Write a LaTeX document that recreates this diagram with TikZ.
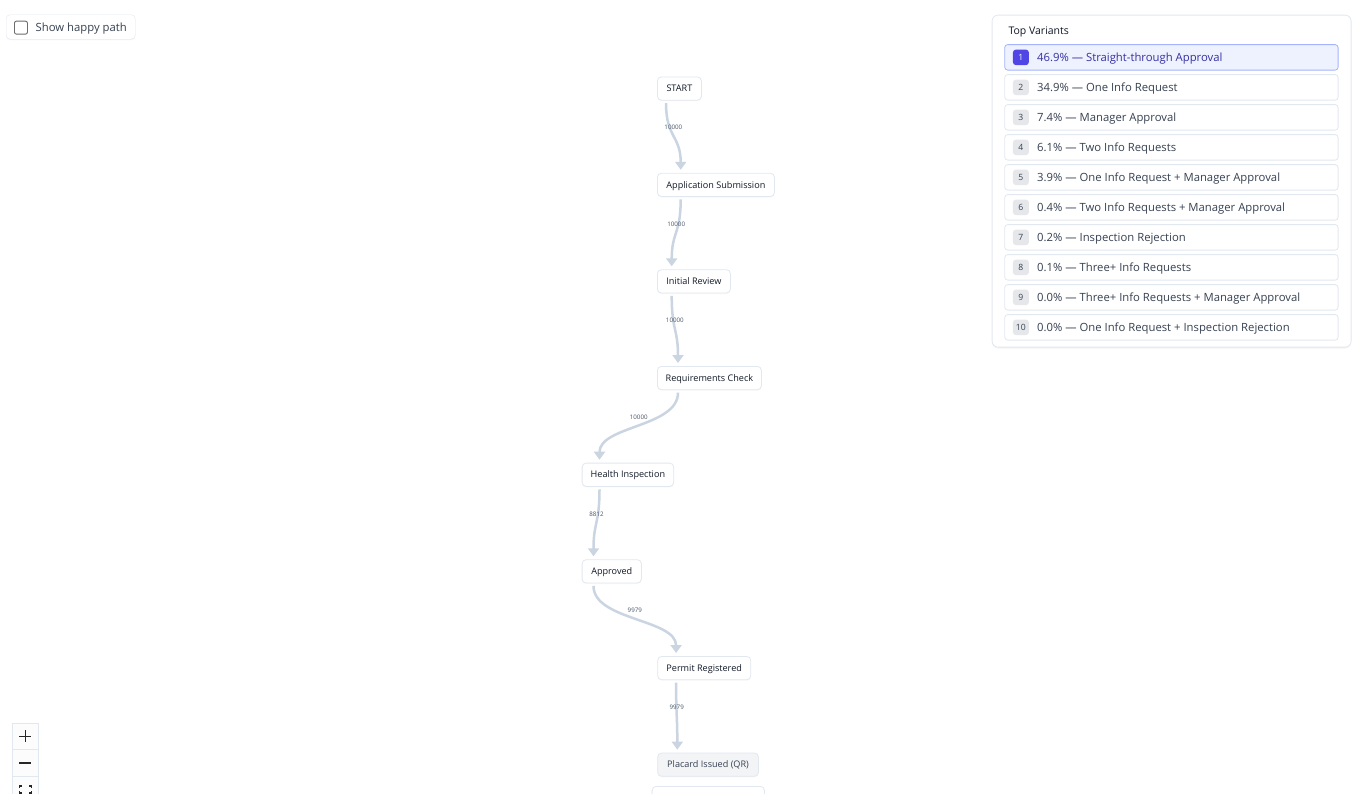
\documentclass[tikz,border=0pt]{standalone}
\usepackage{fontspec}
\setmainfont{Open Sans}
\usetikzlibrary{positioning,shapes,shadows,arrows.meta,fit}

\definecolor{edgec}{HTML}{CBD5E1}
\definecolor{bordc}{HTML}{E2E8F0}
\definecolor{labc}{HTML}{475569}
\definecolor{txtc}{HTML}{111827}
\definecolor{rowtxt}{HTML}{374151}
\definecolor{indigo}{HTML}{4F46E5}
\definecolor{indigotxt}{HTML}{3730A3}
\definecolor{indigobg}{HTML}{EEF2FF}
\definecolor{indigobd}{HTML}{A5B4FC}
\definecolor{badgec}{HTML}{E5E7EB}
\definecolor{greyfill}{HTML}{F3F4F6}
\definecolor{ctrlfill}{HTML}{FCFCFC}

\tikzset{
  flownode/.style={draw=bordc, fill=white, rounded corners=4pt, line width=0.8pt,
    anchor=north west, minimum height=23.3pt, inner xsep=0pt, inner ysep=0pt,
    text height=7.6pt, text depth=1.2pt,
    font=\fontsize{9.1}{10}\selectfont, text=txtc,
    drop shadow={opacity=0.05, shadow xshift=0pt, shadow yshift=-1pt}},
  flowedge/.style={draw=edgec, line width=2.5pt, -{Triangle[width=11pt,length=8pt]},
    shorten <=2.5pt, shorten >=3pt},
  count/.style={font=\fontsize{6.2}{7}\selectfont, text=labc, inner sep=0pt, yshift=9pt},
  varrow/.style={draw=bordc, fill=white, rounded corners=3pt, line width=0.8pt,
    anchor=north west, minimum width=333.4pt, minimum height=25.5pt, inner sep=0pt},
  badge/.style={fill=badgec, rounded corners=3pt, minimum width=16pt, minimum height=15.5pt,
    inner sep=0pt, anchor=west, text height=6.4pt, text depth=0.6pt,
    font=\fontsize{8.6}{9}\selectfont, text=rowtxt},
  vartext/.style={anchor=west, inner sep=0pt, text height=9.4pt, text depth=1.6pt,
    font=\fontsize{11.3}{13}\selectfont, text=rowtxt},
  ctrlbox/.style={draw=bordc, fill=ctrlfill, anchor=north west, minimum width=26.6pt,
    minimum height=26.6pt, inner sep=0pt, line width=0.6pt},
}

\begin{document}
\begin{tikzpicture}[x=1pt, y=-1pt]
\useasboundingbox (0,0) rectangle (1357,793);
\fill[white] (0,0) rectangle (1357,793);

% happy path toggle
\node[draw=bordc, fill=white, rounded corners=4pt, anchor=north west, minimum width=129pt,
  minimum height=24.5pt, inner sep=0pt, drop shadow={opacity=0.08, shadow xshift=0pt, shadow yshift=-1pt}]
  (happy) at (6,14.5) {};
\node[draw=gray!85!black, rounded corners=2pt, line width=0.9pt, minimum size=13pt, inner sep=0pt,
  anchor=north west] (tickbox) at (14,20.7) {};
\node[vartext] (happytext) at (35.5,27.5) {Show happy path};

% process nodes
\node[flownode, minimum width=44pt] (start) at (657,76.5) {START};
\node[flownode, minimum width=117pt] (appsub) at (657,172.8) {Application Submission};
\node[flownode, minimum width=73pt] (review) at (657,269.3) {Initial Review};
\node[flownode, minimum width=104pt] (reqcheck) at (657,366) {Requirements Check};
\node[flownode, minimum width=91.6pt] (health) at (581.7,462.7) {Health Inspection};
\node[flownode, minimum width=59.3pt] (approved) at (581.7,559.3) {Approved};
\node[flownode, minimum width=93pt] (permit) at (657.3,656) {Permit Registered};
\node[flownode, minimum width=100.7pt, fill=greyfill, text=rowtxt] (placard) at (657.3,752.6) {Placard Issued (QR)};
\node[flownode, minimum width=112.3pt] (nextbox) at (651.7,786) {};

% edges with counts
\draw[flowedge] ([xshift=9pt]start.south west) .. controls +(0,37) and +(0,-37) .. ([xshift=23.7pt]appsub.north west)
  node[count, pos=0.5] (c1) {10000};
\draw[flowedge] ([xshift=23.7pt]appsub.south west) .. controls +(0,37) and +(0,-37) .. ([xshift=14.7pt]review.north west)
  node[count, pos=0.5] (c2) {10000};
\draw[flowedge] ([xshift=14.7pt]review.south west) .. controls +(0,37) and +(0,-37) .. ([xshift=21pt]reqcheck.north west)
  node[count, pos=0.5] (c3) {10000};
\draw[flowedge] ([xshift=21pt]reqcheck.south west) .. controls +(0,37) and +(0,-37) .. ([xshift=17.8pt]health.north west)
  node[count, pos=0.5] (c4) {10000};
\draw[flowedge] ([xshift=17.8pt]health.south west) .. controls +(0,37) and +(0,-37) .. ([xshift=11.8pt]approved.north west)
  node[count, pos=0.5] (c5) {8812};
\draw[flowedge] ([xshift=11.8pt]approved.south west) .. controls +(0,37) and +(0,-37) .. ([xshift=18.8pt]permit.north west)
  node[count, pos=0.5] (c6) {9979};
\draw[flowedge] ([xshift=18.8pt]permit.south west) .. controls +(0,37) and +(0,-37) .. ([xshift=20pt]placard.north west)
  node[count, pos=0.5] (c7) {9979};

% top variants panel
\node[draw=bordc, fill=white, rounded corners=6pt, anchor=north west, minimum width=359pt,
  minimum height=332pt, inner sep=0pt, line width=0.8pt,
  drop shadow={opacity=0.08, shadow xshift=0pt, shadow yshift=-1.5pt}] (panel) at (991.7,14.7) {};
\node[anchor=west, inner sep=0pt, text height=8.6pt, text depth=1.4pt, font=\fontsize{10.5}{12}\selectfont,
  text=txtc] (title) at (1008.3,31) {Top Variants};
\node[varrow, draw=indigobd, fill=indigobg] (row1) at (1004.3,44.2) {};
\node[badge, fill=indigo, text=white] (badge1) at ([xshift=8.4pt]row1.west) {1};
\node[vartext, text=indigotxt] (var1) at ([xshift=32.7pt]row1.west) {46.9\% — Straight-through Approval};
\foreach \i/\pct/\name in {2/34.9/One Info Request, 3/7.4/Manager Approval, 4/6.1/Two Info Requests,
    5/3.9/One Info Request + Manager Approval, 6/0.4/Two Info Requests + Manager Approval,
    7/0.2/Inspection Rejection, 8/0.1/Three+ Info Requests,
    9/0.0/Three+ Info Requests + Manager Approval, 10/0.0/One Info Request + Inspection Rejection}{
  \node[varrow] (row\i) at (1004.3,{44.2+30*(\i-1)}) {};
  \node[badge] (badge\i) at ([xshift=8.4pt]row\i.west) {\i};
  \node[vartext] (var\i) at ([xshift=32.7pt]row\i.west) {\pct\% — \name};
}

% zoom controls
\node[ctrlbox] (zin) at (11.7,722.7) {};
\node[ctrlbox] (zout) at (11.7,749.3) {};
\node[ctrlbox] (zfit) at (11.7,775.9) {};
\draw[line width=1.6pt, black!85] (zin.center) +(-6,0) -- +(6,0) (zin.center) +(0,-6) -- +(0,6);
\draw[line width=1.6pt, black!85] (zout.center) +(-6,0) -- +(6,0);
\draw[line width=1.3pt, black!85] (zfit.center) +(-6,-1.5) -- +(-6,-3.5) -- +(-3.5,-3.5)
  (zfit.center) +(6,-1.5) -- +(6,-3.5) -- +(3.5,-3.5)
  (zfit.center) +(-6,1.5) -- +(-6,3.5) -- +(-3.5,3.5)
  (zfit.center) +(6,1.5) -- +(6,3.5) -- +(3.5,3.5);
\end{tikzpicture}
\end{document}
